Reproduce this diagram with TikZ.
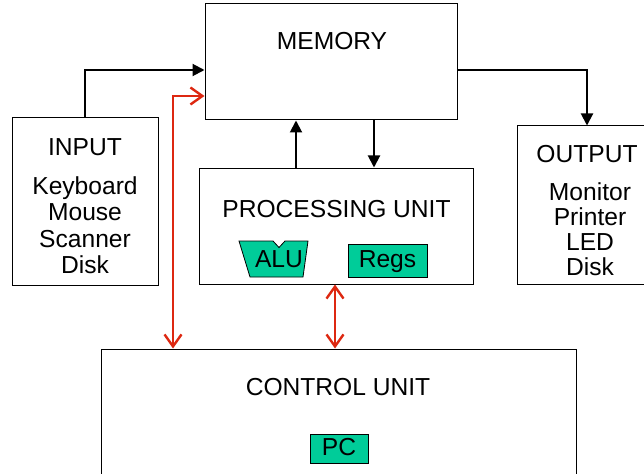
\documentclass[tikz,border=0pt]{standalone}
\usepackage{fontspec}
\setmainfont{Liberation Sans}
\usetikzlibrary{arrows.meta}
\definecolor{unitgreen}{RGB}{0,204,153}
\definecolor{busred}{RGB}{221,40,17}
\tikzset{
	unit/.style={draw=black, line width=1pt, inner sep=0pt},
	lbl/.style={anchor=base, inner sep=0pt, align=center, font=\fontsize{24.6}{26}\selectfont},
	reg/.style={draw=black, line width=0.8pt, fill=unitgreen, inner sep=0pt, text height=17pt, text depth=3pt, font=\fontsize{24.6}{26}\selectfont},
	data/.style={-{Triangle[length=12pt,width=12pt]}, line width=2pt},
	bus/.style={{Straight Barb[length=12pt,width=17pt]}-{Straight Barb[length=12pt,width=17pt]}, line width=2.4pt, draw=busred}
}
\begin{document}
\begin{tikzpicture}[x=1pt,y=-1pt]
	\path[use as bounding box, clip] (0,0) rectangle (644,473);
	\node[unit, minimum width=252pt, minimum height=116pt] (mem) at (331,62) {};
	\node[unit, minimum width=146pt, minimum height=167pt] (inp) at (85,201.5) {};
	\node[unit, minimum width=274pt, minimum height=116pt] (proc) at (336,226) {};
	\node[unit, minimum width=140pt, minimum height=158pt] (outp) at (587,205) {};
	\node[unit, minimum width=475pt, minimum height=150pt] (ctrl) at (338.5,424) {};
	\node[lbl] (memlbl) at (332,50) {MEMORY};
	\node[lbl] (inplbl) at (85,155) {INPUT};
	\node[lbl, font=\fontsize{24.6}{26.5}\selectfont] (inplist) at (85,273.5) {Keyboard\\Mouse\\Scanner\\Disk};
	\node[lbl] (proclbl) at (336.5,217) {PROCESSING UNIT};
	\node[lbl] (outplbl) at (587,162) {OUTPUT};
	\node[lbl, font=\fontsize{24.6}{25}\selectfont] (outplist) at (590,275) {Monitor\\Printer\\LED\\Disk};
	\node[lbl] (ctrllbl) at (338,395) {CONTROL UNIT};
	\filldraw[fill=unitgreen, draw=black, line width=0.8pt]
		(239,241) -- (273,241) -- (279,247.5) -- (285,241) -- (308,241) -- (303,277) -- (250,277) -- cycle;
	\node[lbl] (alu) at (279,267) {ALU};
	\node[reg, minimum width=79pt, minimum height=33pt] (regs) at (387.5,260.5) {Regs};
	\node[reg, minimum width=58pt, minimum height=29pt] (pc) at (339,448.5) {PC};
	\draw[data] (inp.north) |- ([yshift=-8pt]mem.west);
	\draw[data] ([yshift=-8pt]mem.east) -| (outp.north);
	\draw[data] ([xshift=-35pt]mem.south |- proc.north) -- ([xshift=-35pt]mem.south);
	\draw[data] ([xshift=43pt]mem.south) -- ([xshift=43pt]mem.south |- proc.north);
	\draw[bus] ([yshift=-34pt]mem.west) -| ([xshift=-165.5pt]ctrl.north);
	\draw[bus] ([xshift=-1pt]proc.south) -- ([xshift=-1pt]proc.south |- ctrl.north);
\end{tikzpicture}
\end{document}
